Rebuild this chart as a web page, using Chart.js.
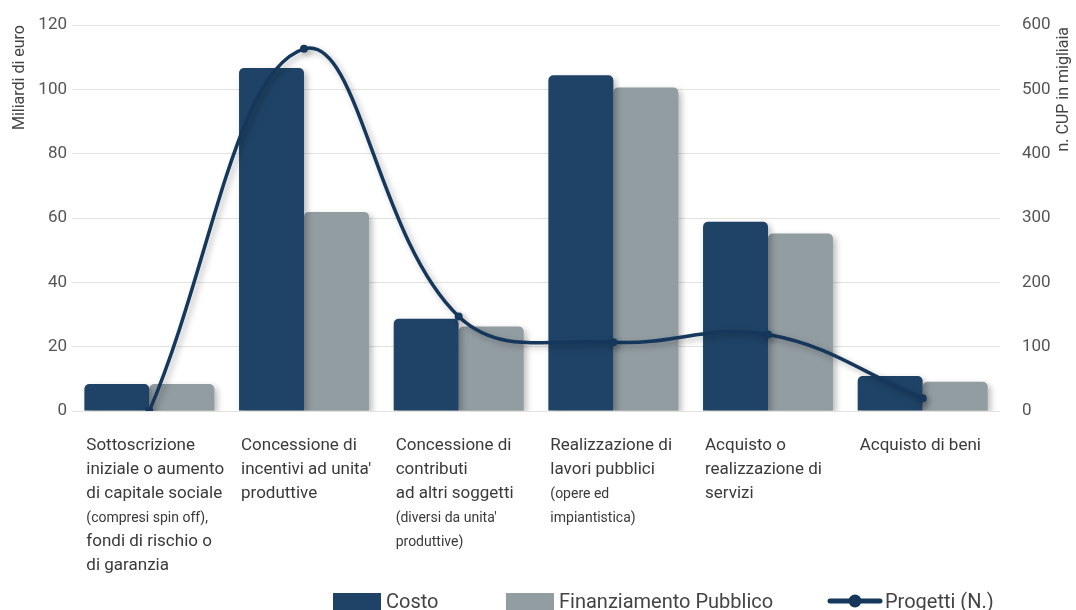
<!DOCTYPE html>
<html>
<head>
<meta charset="utf-8">
<script src="https://cdn.jsdelivr.net/npm/chart.js@4.4.0/dist/chart.umd.min.js"></script>
<style>
    html, body { margin: 0; padding: 0; background: #fff; }
    #wrap { width: 1076px; height: 610px; position: relative; }
</style>
</head>
<body>
<div id="wrap"><canvas id="chart"></canvas></div>
<script>
// Chart data
const categories = [
    ['Sottoscrizione', 'iniziale o aumento', 'di capitale sociale', '(compresi spin off),', 'fondi di rischio o', 'di garanzia'],
    ['Concessione di', "incentivi ad unita'", 'produttive'],
    ['Concessione di', 'contributi', 'ad altri soggetti', "(diversi da unita'", 'produttive)'],
    ['Realizzazione di', 'lavori pubblici', '(opere ed', 'impiantistica)'],
    ['Acquisto o', 'realizzazione di', 'servizi'],
    ['Acquisto di beni']
];
const costo = [8.4, 106.6, 28.7, 104.4, 58.8, 10.9];
const finanziamento = [8.4, 61.9, 26.3, 100.6, 55.2, 9.1];
const progetti = [0, 563, 147, 107, 119, 20];

const seriesNames = ['Costo', 'Finanziamento Pubblico', 'Progetti (N.)'];
const leftAxisTitle = 'Miliardi di euro';
const rightAxisTitle = 'n. CUP in migliaia';

const FONT = 'Roboto, "Noto Sans", sans-serif';
const NAVY = '#1f4367';
const GREY = '#929da2';
const LINE = '#15375b';

// soft drop shadow under bars and line
const shadowPlugin = {
    id: 'shadow',
    beforeDatasetDraw(chart) {
        const ctx = chart.ctx;
        ctx.save();
        ctx.shadowColor = 'rgba(0, 0, 0, 0.28)';
        ctx.shadowBlur = 6;
        ctx.shadowOffsetX = 3;
        ctx.shadowOffsetY = 3;
    },
    afterDatasetDraw(chart) {
        chart.ctx.restore();
    }
};

// multi-line category labels, notes in brackets set smaller
const xLabelsPlugin = {
    id: 'xLabels',
    afterDraw(chart) {
        const ctx = chart.ctx;
        const xs = chart.scales.x;
        const base = chart.chartArea.bottom + 39;
        ctx.save();
        ctx.fillStyle = '#3a3a3a';
        ctx.textAlign = 'left';
        ctx.textBaseline = 'alphabetic';
        categories.forEach((lines, i) => {
            const x = xs.getPixelForValue(i) - 63;
            let note = false;
            lines.forEach((line, k) => {
                if (line.startsWith('(')) note = true;
                ctx.font = (note ? '14px ' : '17px ') + FONT;
                ctx.fillText(line, x, base + k * 24);
                if (line.includes(')')) note = false;
            });
        });

        // right axis title, reading bottom to top
        const y2 = chart.scales.y2;
        ctx.save();
        ctx.translate(y2.right - 12, chart.chartArea.top + 2);
        ctx.rotate(-Math.PI / 2);
        ctx.font = '16px ' + FONT;
        ctx.fillStyle = '#444';
        ctx.textAlign = 'right';
        ctx.textBaseline = 'middle';
        ctx.fillText(rightAxisTitle, 0, 0);
        ctx.restore();
        ctx.restore();
    }
};

// legend along the bottom edge
const legendPlugin = {
    id: 'bottomLegend',
    afterDraw(chart) {
        const ctx = chart.ctx;
        const starts = [333, 506, 828];
        const y = 593;
        ctx.save();
        ctx.font = '20px ' + FONT;
        ctx.textBaseline = 'alphabetic';
        chart.data.datasets.forEach((ds, i) => {
            const x = starts[i];
            let textX;
            if (ds.type === 'line') {
                ctx.strokeStyle = ds.borderColor;
                ctx.lineWidth = 5;
                ctx.lineCap = 'round';
                ctx.beginPath();
                ctx.moveTo(x + 2, y + 8);
                ctx.lineTo(x + 52, y + 8);
                ctx.stroke();
                ctx.fillStyle = ds.borderColor;
                ctx.beginPath();
                ctx.arc(x + 27, y + 8, 6.5, 0, Math.PI * 2);
                ctx.fill();
                textX = x + 57;
            } else {
                ctx.fillStyle = ds.backgroundColor;
                ctx.fillRect(x, y, 48, 18);
                textX = x + 53;
            }
            ctx.fillStyle = '#444';
            ctx.fillText(ds.label, textX, y + 15);
        });
        ctx.restore();
    }
};

const ctx = document.getElementById('chart');
const chart = new Chart(ctx, {
    type: 'bar',
    data: {
        labels: categories.map(l => l.join(' ')),
        datasets: [
            {
                label: seriesNames[0],
                data: costo,
                yAxisID: 'y',
                backgroundColor: NAVY,
                borderRadius: 5,
                categoryPercentage: 0.84,
                barPercentage: 1.0,
                order: 1
            },
            {
                label: seriesNames[1],
                data: finanziamento,
                yAxisID: 'y',
                backgroundColor: GREY,
                borderRadius: 5,
                categoryPercentage: 0.84,
                barPercentage: 1.0,
                order: 2
            },
            {
                type: 'line',
                label: seriesNames[2],
                data: progetti,
                yAxisID: 'y2',
                borderColor: LINE,
                backgroundColor: LINE,
                borderWidth: 3.5,
                pointRadius: 4,
                pointBackgroundColor: LINE,
                pointBorderWidth: 0,
                tension: 0.4,
                order: 0
            }
        ]
    },
    options: {
        responsive: true,
        maintainAspectRatio: false,
        animation: false,
        layout: {
            padding: { top: 25, left: 0, right: 0, bottom: 0 }
        },
        plugins: {
            legend: { display: false },
            tooltip: { mode: 'index', intersect: false }
        },
        scales: {
            x: {
                grid: { display: false },
                border: { display: false },
                ticks: { display: false },
                afterFit: s => { s.height = 199; }
            },
            y: {
                position: 'left',
                min: 0,
                max: 120,
                ticks: {
                    stepSize: 20,
                    padding: 5,
                    color: '#555',
                    font: { family: FONT, size: 17 }
                },
                grid: { color: '#e4e4df', drawTicks: false },
                border: { display: false },
                title: {
                    display: true,
                    text: leftAxisTitle,
                    align: 'end',
                    color: '#444',
                    font: { family: FONT, size: 16 },
                    padding: { top: 10, bottom: 0 }
                },
                afterFit: s => { s.width = 72; }
            },
            y2: {
                position: 'right',
                min: 0,
                max: 600,
                ticks: {
                    stepSize: 100,
                    padding: 14,
                    color: '#555',
                    font: { family: FONT, size: 17 }
                },
                grid: { display: false },
                border: { display: false },
                afterFit: s => { s.width = 76; }
            }
        }
    },
    plugins: [shadowPlugin, xLabelsPlugin, legendPlugin]
});
</script>
</body>
</html>
